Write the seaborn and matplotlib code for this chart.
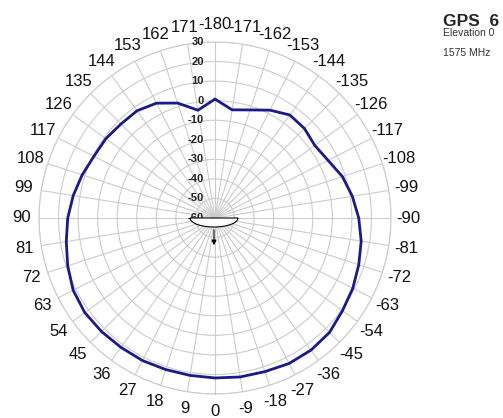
import numpy as np
import matplotlib
matplotlib.use("Agg")
import matplotlib.pyplot as plt
import matplotlib.transforms as mtransforms
from matplotlib.patches import Polygon, FancyArrowPatch
import pandas as pd
import seaborn as sns

# ---- data ----
angles_deg = [-180, -171, -162, -153, -144, -135, -126, -117, -108, -99,
              -90, -81, -72, -63, -54, -45, -36, -27, -18, -9,
              0, 9, 18, 27, 36, 45, 54, 63, 72, 81,
              90, 99, 108, 117, 126, 135, 144, 153, 162, 171, 180]
gain_db = [0.8, -4.0, -1.9, 1.9, 5.1, 4.7, 3.1, 4.9, 8.5, 11.1,
           13.5, 15.7, 17.3, 19.1, 20.6, 22.8, 23.5, 23.5, 22.6, 22.3,
           21.8, 21.5, 21.5, 21.8, 21.8, 22.1, 22.3, 21.4, 19.2, 17.0,
           15.3, 13.4, 11.4, 9.5, 9.0, 8.0, 7.8, 5.9, 1.8, -4.2, 0.8]
tick_angles = [0, 9, 18, 27, 36, 45, 54, 63, 72, 81, 90, 99, 108, 117, 126,
               135, 144, 153, 162, 171, 180, 189, 198, 207, 216, 225, 234,
               243, 252, 261, 270, 279, 288, 297, 306, 315, 324, 333, 342, 351]
tick_labels = ["0", "9", "18", "27", "36", "45", "54", "63", "72", "81", "90",
               "99", "108", "117", "126", "135", "144", "153", "162", "171",
               "-180", "-171", "-162", "-153", "-144", "-135", "-126", "-117",
               "-108", "-99", "-90", "-81", "-72", "-63", "-54", "-45", "-36",
               "-27", "-18", "-9"]
r_levels = [-60, -50, -40, -30, -20, -10, 0, 10, 20, 30]
r_labels = ["-60", "-50", "-40", "-30", "-20", "-10", "0", "10", "20", "30"]
title = "GPS  6"
subtitle1 = "Elevation 0"
subtitle2 = "1575 MHz"

sns.set_style("white")
plt.rcParams["font.family"] = ["Liberation Sans", "DejaVu Sans"]

W, H = 503, 418
fig = plt.figure(figsize=(W / 100, H / 100), dpi=100)
ax = fig.add_axes([39 / W, (H - 394) / H, 352 / W, 352 / H], projection="polar")
ax.set_theta_zero_location("S")
ax.set_theta_direction(-1)

df = pd.DataFrame({"theta": np.radians(angles_deg), "gain": gain_db})
sns.lineplot(data=df, x="theta", y="gain", ax=ax, color="#1a1a88",
             linewidth=2.0, sort=False, estimator=None)

ax.set_ylim(-60, 30)
ax.set_rgrids(r_levels[1:], labels=[""] * (len(r_levels) - 1))
ax.set_thetagrids(tick_angles, labels=tick_labels, fontsize=12)
ax.tick_params(axis="x", pad=2, colors="#111111")
ax.grid(True, color="#cccccc", linewidth=0.8)
ax.spines["polar"].set_color("#cccccc")
ax.spines["polar"].set_linewidth(0.8)
ax.set_xlabel("")
ax.set_ylabel("")

offset = mtransforms.ScaledTranslation(-11 / 100, 0, fig.dpi_scale_trans)
for lv, lb in zip(r_levels, r_labels):
    ax.text(np.pi, lv, lb, transform=ax.transData + offset, ha="right",
            va="center", fontsize=8, fontweight="bold", color="#222222",
            zorder=5)

# antenna icon at the centre
cx, cy = 214 / W, (H - 218) / H
t = np.linspace(0, np.pi, 40)
bx = cx + (24 / W) * np.cos(t)
by = cy - (9 / H) * np.sin(t)
bowl = Polygon(np.column_stack([bx, by]), closed=True, transform=fig.transFigure,
               facecolor="white", edgecolor="black", linewidth=0.8, zorder=10)
fig.add_artist(bowl)
arr = FancyArrowPatch((cx, cy - 9 / H), (cx, cy - 30 / H), transform=fig.transFigure,
                      arrowstyle="-|>", mutation_scale=7, color="black",
                      linewidth=0.8, zorder=10)
fig.add_artist(arr)

fig.text(443 / W, 1 - 21 / H, title, fontsize=12.5, fontweight="bold",
         ha="left", va="center")
fig.text(469 / W, 1 - 33 / H, subtitle1, fontsize=7.5, ha="center", va="center",
         color="#333333")
fig.text(467 / W, 1 - 53 / H, subtitle2, fontsize=7.5, ha="center", va="center",
         color="#333333")

fig.savefig("out.png", dpi=100)
